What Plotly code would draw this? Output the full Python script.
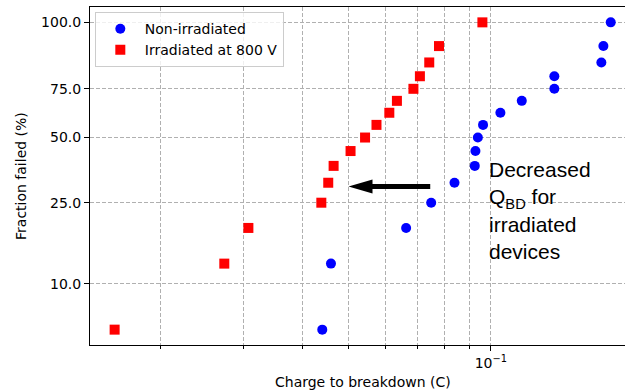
import math
import plotly.graph_objects as go

# Weibull plot of charge-to-breakdown, 16 devices per group
n_devices = 16
fraction_failed = [6.25, 12.5, 18.75, 25.0, 31.25, 37.5, 43.75, 50.0,
                   56.25, 62.5, 68.75, 75.0, 81.25, 87.5, 93.75, 100.0]

qbd_non_irradiated = [0.0440, 0.0459, 0.0662, 0.0748, 0.0838, 0.0925, 0.0928, 0.0939,
                      0.0963, 0.1048, 0.1163, 0.1363, 0.1363, 0.1714, 0.1731, 0.1794]
qbd_irradiated = [0.0160, 0.0273, 0.0307, 0.0438, 0.0453, 0.0465, 0.0505, 0.0542,
                  0.0573, 0.0610, 0.0633, 0.0686, 0.0708, 0.0741, 0.0777, 0.0960]

y_tick_values = [10.0, 25.0, 50.0, 75.0, 100.0]
y_tick_labels = ["10.0", "25.0", "50.0", "75.0", "100.0"]
x_minor_ticks = [0.02, 0.03, 0.04, 0.05, 0.06, 0.07, 0.08, 0.09]
x_major_ticks = [0.1]
x_major_labels = ["10<sup>\u22121</sup>"]

# arrow showing the shift of Q_BD
arrow_from_q = 0.075
arrow_to_q = 0.05
arrow_pct = 30.0


def weibull(pct):
    """Map a failed percentage onto the Weibull axis (median-rank estimate)."""
    rank = pct / 100.0 * n_devices
    f = (rank - 0.3) / (n_devices + 0.4)
    return math.log(-math.log(1.0 - f))


y_data = [weibull(p) for p in fraction_failed]
y_lo, y_hi = min(y_data), max(y_data)
y_pad = 0.05 * (y_hi - y_lo)

GRID = "#b0b0b0"
DASH = "4px,2px"
FONT = "DejaVu Sans"

fig = go.Figure()
fig.add_trace(go.Scatter(
    x=qbd_non_irradiated, y=y_data, mode="markers", name="Non-irradiated",
    marker=dict(symbol="circle", size=10, color="#0000ff", line=dict(width=0)),
    cliponaxis=False,
))
fig.add_trace(go.Scatter(
    x=qbd_irradiated, y=y_data, mode="markers", name="Irradiated at 800 V",
    marker=dict(symbol="square", size=10, color="#ff0000", line=dict(width=0)),
    cliponaxis=False,
))

fig.update_layout(
    width=625, height=392,
    margin=dict(l=90, r=0, t=7, b=47),
    paper_bgcolor="white", plot_bgcolor="white",
    font=dict(family=FONT, size=14, color="black"),
    showlegend=True,
    legend=dict(
        x=0.009, y=0.985, xanchor="left", yanchor="top",
        bgcolor="rgba(255,255,255,0.8)", bordercolor="#cccccc", borderwidth=1,
        font=dict(family=FONT, size=14, color="black"),
        itemwidth=39, tracegroupgap=0,
    ),
    xaxis=dict(
        type="log", range=[-1.848, -0.716],
        showline=True, mirror=True, linecolor="black", linewidth=1,
        ticks="outside", ticklen=5, tickwidth=1, tickcolor="black",
        tickmode="array", tickvals=x_major_ticks, ticktext=x_major_labels,
        showgrid=True, gridcolor=GRID, griddash=DASH, gridwidth=1,
        minor=dict(tickmode="array", tickvals=x_minor_ticks, ticks="outside",
                   ticklen=3, tickwidth=1, tickcolor="black",
                   showgrid=True, gridcolor=GRID, griddash=DASH, gridwidth=1),
        zeroline=False,
    ),
    yaxis=dict(
        range=[y_lo - y_pad, y_hi + y_pad],
        showline=True, mirror=False, linecolor="black", linewidth=1,
        ticks="outside", ticklen=5, tickwidth=1, tickcolor="black",
        tickmode="array", tickvals=[weibull(v) for v in y_tick_values],
        ticktext=y_tick_labels,
        showgrid=True, gridcolor=GRID, griddash=DASH, gridwidth=1,
        zeroline=False,
    ),
)

# axis titles
fig.add_annotation(text="Charge to breakdown (C)", xref="paper", yref="paper",
                   x=0.51, y=-0.1095, xanchor="center", yanchor="middle",
                   showarrow=False, font=dict(family=FONT, size=14, color="black"))
fig.add_annotation(text="Fraction failed (%)", xref="paper", yref="paper",
                   x=-0.129, y=0.5, xanchor="center", yanchor="middle",
                   textangle=-90, showarrow=False,
                   font=dict(family=FONT, size=14, color="black"))

# explanatory note
fig.add_annotation(
    text="Decreased<br>Q<sub>BD</sub> for<br>irradiated<br>devices",
    xref="x", yref="paper", x=math.log10(0.1), y=0.399, xshift=-4,
    xanchor="left", yanchor="middle", align="left", showarrow=False,
    font=dict(family="Liberation Sans, Arial", size=21, color="black"),
)

# arrow shaft (head drawn separately as a filled triangle)
fig.add_annotation(
    text="", xref="x", yref="y", axref="x", ayref="y",
    x=math.log10(arrow_to_q), y=weibull(arrow_pct),
    ax=math.log10(arrow_from_q), ay=weibull(arrow_pct),
    showarrow=True, arrowhead=0, arrowwidth=5, arrowcolor="black", standoff=20,
)
fig.add_shape(
    type="path", xref="x", yref="y",
    xsizemode="pixel", ysizemode="pixel",
    xanchor=arrow_to_q, yanchor=weibull(arrow_pct),
    path="M0,0 L24,7 L24,-7 Z",
    fillcolor="black", line=dict(width=0),
)

fig.write_html("out.html")
